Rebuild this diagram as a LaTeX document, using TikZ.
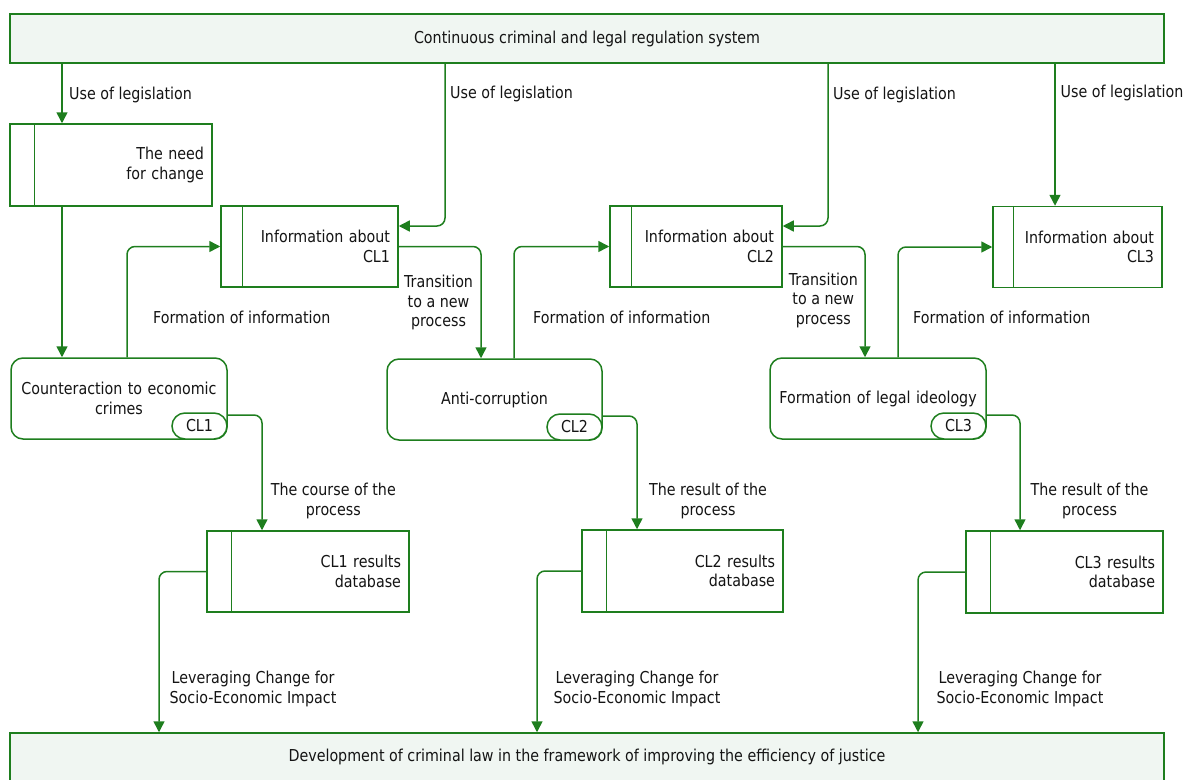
\documentclass[tikz,border=0pt]{standalone}
\usepackage{fontspec}
\setmainfont{DejaVu Sans}[FakeStretch=0.87]
\usetikzlibrary{arrows.meta}
\definecolor{gline}{RGB}{30,126,30}
\definecolor{gfill}{RGB}{240,246,242}
\definecolor{tcol}{RGB}{20,20,20}
\tikzset{
  every node/.style={font=\fontsize{16.4}{19.5}\selectfont, text=tcol},
  rectbox/.style={draw=gline, line width=1.5pt, fill=white, inner xsep=8pt, inner ysep=0pt, align=right},
  procbox/.style={draw=gline, line width=1.5pt, fill=white, rounded corners=12pt, inner xsep=6pt, inner ysep=0pt, align=center},
  tagbox/.style={draw=gline, line width=1.5pt, fill=white, rounded corners=13pt, inner sep=0pt, minimum width=55pt, minimum height=26pt},
  barbox/.style={draw=gline, line width=1.5pt, fill=gfill, inner sep=0pt},
  divline/.style={draw=gline, line width=1.5pt},
  conn/.style={draw=gline, line width=1.5pt, rounded corners=8pt, -{Triangle[length=11pt,width=11pt]}},
  lbl/.style={inner sep=0pt},
}
\begin{document}
\begin{tikzpicture}[x=1pt,y=-1pt]
\useasboundingbox (0,0) rectangle (1185,779);
% bars
\node[barbox, minimum width=1154pt, minimum height=49pt] (top) at (587,38.5) {Continuous criminal and legal regulation system};
\node[barbox, minimum width=1154pt, minimum height=48pt] (bot) at (587,757) {Development of criminal law in the framework of improving the efficiency of justice};
% left rect boxes
\node[rectbox, text width=186pt, minimum height=82pt] (need) at (111,165) {The need\\for change};
\draw[divline] ([xshift=25pt]need.north west) -- ([xshift=25pt]need.south west);
\node[rectbox, text width=161pt, minimum height=81pt] (info1) at (309.5,246.5) {Information about\\CL1};
\draw[divline] ([xshift=22pt]info1.north west) -- ([xshift=22pt]info1.south west);
\node[rectbox, text width=156pt, minimum height=81pt] (info2) at (696,246.5) {Information about\\CL2};
\draw[divline] ([xshift=22pt]info2.north west) -- ([xshift=22pt]info2.south west);
\node[rectbox, text width=153pt, minimum height=81pt] (info3) at (1077.5,247) {Information about\\CL3};
\draw[divline] ([xshift=21pt]info3.north west) -- ([xshift=21pt]info3.south west);
% process boxes
\node[procbox, text width=204pt, minimum height=81pt] (proc1) at (119,398.5) {Counteraction to economic\\crimes};
\node[tagbox] (tag1) at (199.5,426) {CL1};
\node[procbox, text width=203pt, minimum height=81pt] (proc2) at (494.5,399.5) {Anti-corruption};
\node[tagbox] (tag2) at (574.5,427) {CL2};
\node[procbox, text width=204pt, minimum height=81pt] (proc3) at (878,398.5) {Formation of legal ideology};
\node[tagbox] (tag3) at (958.5,426) {CL3};
% database boxes
\node[rectbox, text width=186pt, minimum height=81pt] (db1) at (308,571.5) {CL1 results\\database};
\draw[divline] ([xshift=25pt]db1.north west) -- ([xshift=25pt]db1.south west);
\node[rectbox, text width=185pt, minimum height=82pt] (db2) at (682.5,571) {CL2 results\\database};
\draw[divline] ([xshift=25pt]db2.north west) -- ([xshift=25pt]db2.south west);
\node[rectbox, text width=181pt, minimum height=82pt] (db3) at (1064.5,572) {CL3 results\\database};
\draw[divline] ([xshift=25pt]db3.north west) -- ([xshift=25pt]db3.south west);
% helper x-positions
\coordinate (x1) at (62,0);
\coordinate (x2) at (445,0);
\coordinate (x3) at (828,0);
\coordinate (x4) at (1055,0);
\coordinate (x6) at (127,0);
\coordinate (x7) at (481,0);
\coordinate (x8) at (514,0);
\coordinate (x9) at (865,0);
\coordinate (x10) at (898,0);
\coordinate (x11) at (262,0);
\coordinate (x12) at (637,0);
\coordinate (x13) at (1020,0);
\coordinate (x14) at (159,0);
\coordinate (x15) at (537,0);
\coordinate (x16) at (918,0);
% connectors
\draw[conn] (top.south -| x1) -- (need.north -| x1);
\draw[conn] (top.south -| x2) |- ([yshift=20.5pt]info1.east);
\draw[conn] (top.south -| x3) |- ([yshift=20.5pt]info2.east);
\draw[conn] (top.south -| x4) -- (info3.north -| x4);
\draw[conn] (need.south -| x1) -- (proc1.north -| x1);
\draw[conn] (proc1.north -| x6) |- (info1.west);
\draw[conn] (info1.east) -| (proc2.north -| x7);
\draw[conn] (proc2.north -| x8) |- (info2.west);
\draw[conn] (info2.east) -| (proc3.north -| x9);
\draw[conn] (proc3.north -| x10) |- (info3.west);
\draw[conn] ([yshift=-16.5pt]proc1.east) -| (db1.north -| x11);
\draw[conn] ([yshift=-16.5pt]proc2.east) -| (db2.north -| x12);
\draw[conn] ([yshift=-16.5pt]proc3.east) -| (db3.north -| x13);
\draw[conn] (db1.west) -| (bot.north -| x14);
\draw[conn] (db2.west) -| (bot.north -| x15);
\draw[conn] (db3.west) -| (bot.north -| x16);
% labels
\node[lbl, anchor=west] (l1) at (69,95) {Use of legislation};
\node[lbl, anchor=west] (l2) at (450,94) {Use of legislation};
\node[lbl, anchor=west] (l3) at (833,95) {Use of legislation};
\node[lbl, anchor=west] (l4) at (1060.5,93) {Use of legislation};
\node[lbl, anchor=west] (f1) at (153,317) {Formation of information};
\node[lbl, anchor=west] (f2) at (533,317) {Formation of information};
\node[lbl, anchor=west] (f3) at (913,317) {Formation of information};
\node[lbl, align=center] (t1) at (438.5,302.5) {Transition\\to a new\\process};
\node[lbl, align=center] (t2) at (823.3,300) {Transition\\to a new\\process};
\node[lbl, align=center] (c1) at (333.3,501) {The course of the\\process};
\node[lbl, align=center] (r2) at (708,501) {The result of the\\process};
\node[lbl, align=center] (r3) at (1089.5,501) {The result of the\\process};
\node[lbl, align=center] (v1) at (253,689) {Leveraging Change for\\Socio-Economic Impact};
\node[lbl, align=center] (v2) at (637,689) {Leveraging Change for\\Socio-Economic Impact};
\node[lbl, align=center] (v3) at (1020,689) {Leveraging Change for\\Socio-Economic Impact};
\end{tikzpicture}
\end{document}
